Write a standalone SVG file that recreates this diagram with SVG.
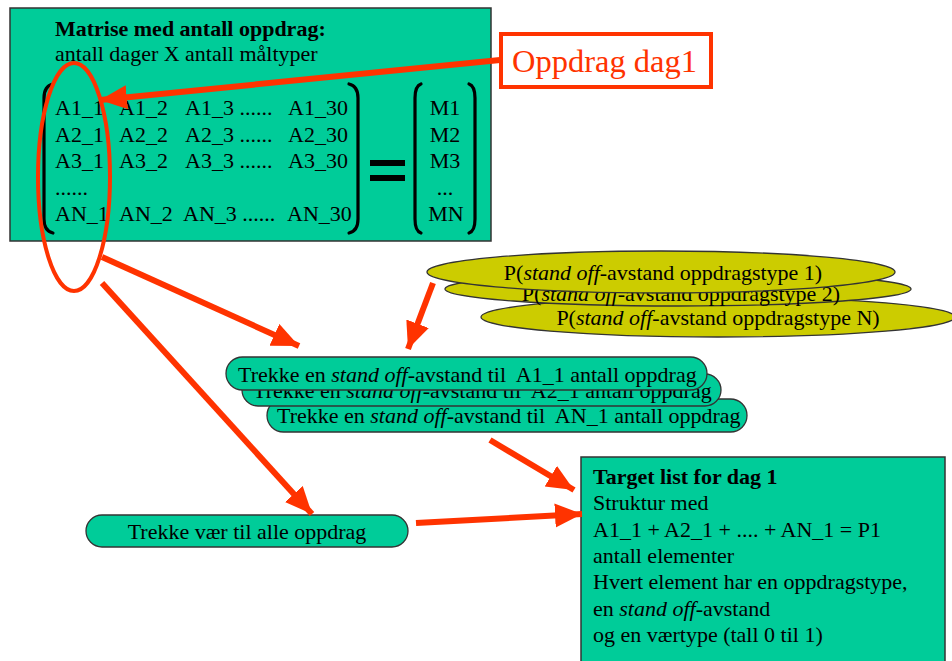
<svg xmlns="http://www.w3.org/2000/svg" width="952" height="661" viewBox="0 0 952 661">
  <style>
    text { font-family: "Liberation Serif", "Times New Roman", serif; font-size: 22px; fill: #000; white-space: pre; }
    .box { fill: #00CC99; stroke: #333; stroke-width: 1.5; }
    .pill { fill: #00CC99; stroke: #333; stroke-width: 1.3; }
    .oval { fill: #CCCC00; stroke: #333; stroke-width: 1.3; }
    .bracket { fill: none; stroke: #000; stroke-width: 3.2; stroke-linecap: round; }
    .arrow { fill: none; stroke: #FF3300; stroke-width: 6; marker-end: url(#head); }
    .b { font-weight: bold; }
    .i { font-style: italic; }
    .mid { text-anchor: middle; }
  </style>
  <defs>
    <marker id="head" markerUnits="userSpaceOnUse" markerWidth="30" markerHeight="28" refX="27" refY="12" orient="auto">
      <path d="M0,0 L27,12 L0,24 Z" fill="#FF3300"/>
    </marker>
  </defs>

  <rect width="952" height="661" fill="#fff"/>

  <!-- matrix node -->
  <g id="matrix">
    <rect class="box" x="10" y="8" width="481" height="233"/>
    <text class="b" x="55" y="36">Matrise med antall oppdrag:</text>
    <text x="55" y="61">antall dager X antall måltyper</text>
    <path class="bracket" d="M53,84 Q44,86 44,98 L44,219 Q44,231 53,233"/>
    <path class="bracket" d="M349,84 Q358,86 358,98 L358,219 Q358,231 349,233"/>
    <text x="55" y="115">A1_1</text><text x="119" y="115">A1_2</text><text x="185" y="115">A1_3 ......</text><text x="288" y="115">A1_30</text>
    <text x="55" y="142">A2_1</text><text x="119" y="142">A2_2</text><text x="185" y="142">A2_3 ......</text><text x="288" y="142">A2_30</text>
    <text x="55" y="168">A3_1</text><text x="119" y="168">A3_2</text><text x="185" y="168">A3_3 ......</text><text x="288" y="168">A3_30</text>
    <text x="55" y="195">......</text>
    <text x="55" y="221">AN_1</text><text x="119" y="221">AN_2</text><text x="183" y="221">AN_3 ......</text><text x="287" y="221">AN_30</text>
    <rect x="370" y="160" width="35" height="6" fill="#000"/>
    <rect x="370" y="175" width="35" height="6" fill="#000"/>
    <path class="bracket" d="M421,84 Q415,86 415,98 L415,219 Q415,231 421,233"/>
    <path class="bracket" d="M469,84 Q475,86 475,98 L475,219 Q475,231 469,233"/>
    <text class="mid" x="445" y="115">M1</text>
    <text class="mid" x="445" y="142">M2</text>
    <text class="mid" x="445" y="168">M3</text>
    <text class="mid" x="445" y="195">...</text>
    <text class="mid" x="446" y="221">MN</text>
  </g>

  <!-- column highlight -->
  <g id="column-mark">
    <ellipse cx="74" cy="177" rx="36" ry="114" fill="none" stroke="#FF3300" stroke-width="4"/>
  </g>

  <!-- label box -->
  <g id="oppdrag-dag1">
    <rect x="501" y="34" width="210" height="53" fill="#fff" stroke="#FF3300" stroke-width="4"/>
    <text x="512" y="72" style="font-size:32.5px;fill:#FF3300">Oppdrag dag1</text>
  </g>

  <!-- distribution stack -->
  <g id="p-type-n">
    <ellipse class="oval" cx="718" cy="317" rx="237" ry="20"/>
    <text class="mid" x="718" y="325">P(<tspan class="i">stand off</tspan>-avstand oppdragstype N)</text>
  </g>
  <g id="p-type-2">
    <ellipse class="oval" cx="678" cy="289" rx="233" ry="17"/>
    <text class="mid" x="681" y="301">P(<tspan class="i">stand off</tspan>-avstand oppdragstype 2)</text>
  </g>
  <g id="p-type-1">
    <ellipse class="oval" cx="661" cy="272" rx="234" ry="21"/>
    <text class="mid" x="663" y="280">P(<tspan class="i">stand off</tspan>-avstand oppdragstype 1)</text>
  </g>

  <!-- draw stack -->
  <g id="draw-an">
    <rect class="pill" x="267" y="399" width="480" height="33" rx="16.5"/>
    <text x="277" y="423">Trekke en <tspan class="i">stand off</tspan>-avstand til  AN_1 antall oppdrag</text>
  </g>
  <g id="draw-a2">
    <rect class="pill" x="242" y="374" width="479" height="32" rx="16"/>
    <text x="253" y="398">Trekke en <tspan class="i">stand off</tspan>-avstand til  A2_1 antall oppdrag</text>
  </g>
  <g id="draw-a1">
    <rect class="pill" x="226" y="357" width="481" height="33" rx="16.5"/>
    <text x="238" y="382">Trekke en <tspan class="i">stand off</tspan>-avstand til  A1_1 antall oppdrag</text>
  </g>

  <g id="draw-weather">
    <rect class="pill" x="86" y="515" width="322" height="32" rx="16"/>
    <text class="mid" x="247" y="539">Trekke vær til alle oppdrag</text>
  </g>

  <!-- target list -->
  <g id="target-list">
    <rect class="box" x="581" y="457" width="364" height="210"/>
    <text class="b" x="593" y="484">Target list for dag 1</text>
    <text x="593" y="510">Struktur med</text>
    <text x="593" y="537">A1_1 + A2_1 + .... + AN_1 = P1</text>
    <text x="593" y="563">antall elementer</text>
    <text x="593" y="589">Hvert element har en oppdragstype,</text>
    <text x="593" y="616">en <tspan class="i">stand off</tspan>-avstand</text>
    <text x="593" y="642">og en værtype (tall 0 til 1)</text>
  </g>

  <!-- connectors -->
  <g id="connectors">
    <line class="arrow" x1="500" y1="60" x2="100" y2="100"/>
    <line class="arrow" x1="102" y1="257" x2="299" y2="346"/>
    <line class="arrow" x1="102" y1="283" x2="312" y2="514"/>
    <line class="arrow" x1="433" y1="283" x2="408" y2="349"/>
    <line class="arrow" x1="490" y1="440" x2="574" y2="490"/>
    <line class="arrow" x1="416" y1="523" x2="582" y2="514"/>
  </g>
</svg>
